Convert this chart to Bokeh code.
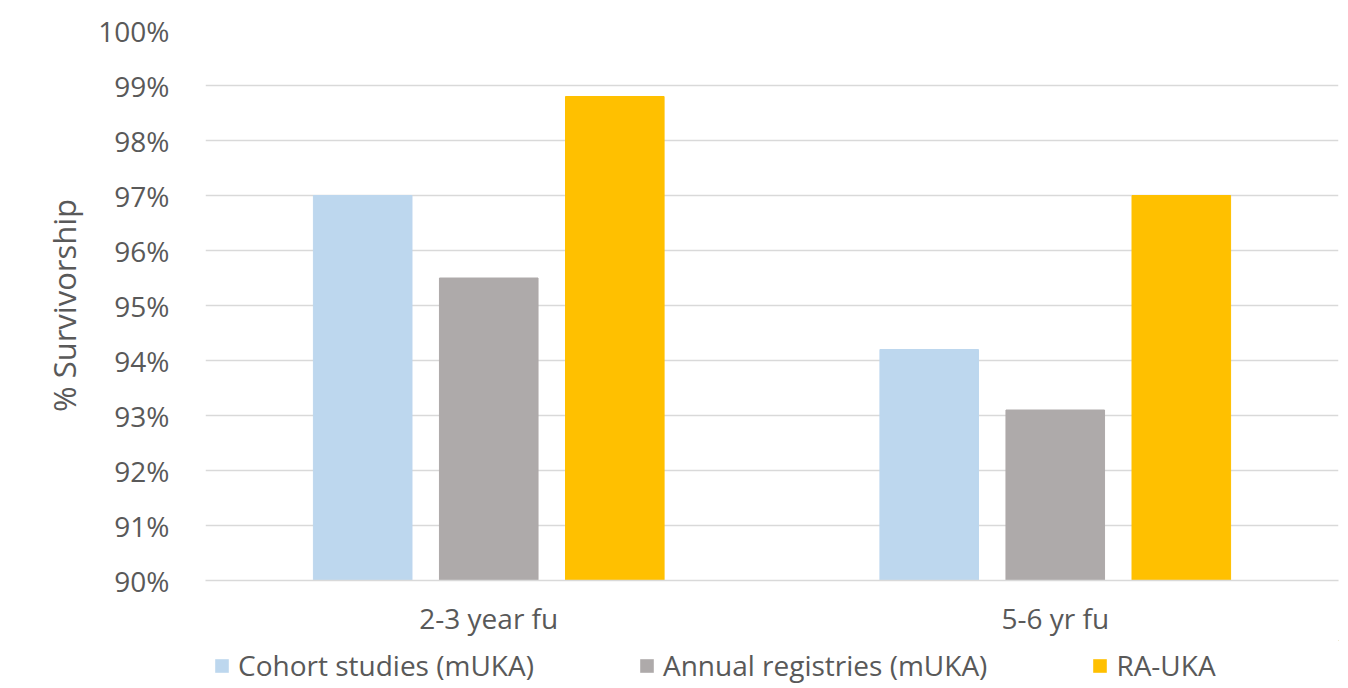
from bokeh.plotting import figure
from bokeh.layouts import column
from bokeh.models import ColumnDataSource, FactorRange, Range1d, Legend, LegendItem, PrintfTickFormatter, FixedTicker
from bokeh.transform import dodge
from bokeh.embed import file_html
from bokeh.resources import INLINE

categories = ["2-3 year fu", "5-6 yr fu"]
series_names = ["Cohort studies (mUKA)", "Annual registries (mUKA)", "RA-UKA"]
cohort = [97.0, 94.2]
annual = [95.5, 93.1]
ra_uka = [98.8, 97.0]
colors = ["#BDD7EE", "#AEAAAA", "#FFC000"]
y_ticks = list(range(90, 101))

src = ColumnDataSource(dict(cat=categories, cohort=cohort, annual=annual, ra=ra_uka))

FONT = "Open Sans"
TXT = "#595959"

p = figure(x_range=FactorRange(*categories), y_range=Range1d(90, 100),
           width=1348, height=640, output_backend="svg", toolbar_location=None,
           min_border_left=205, min_border_right=10, min_border_top=30, min_border_bottom=60)
p.outline_line_color = None

r1 = p.vbar(x=dodge("cat", -0.2225, range=p.x_range), top="cohort", bottom=90, width=0.174,
            source=src, color=colors[0])
r2 = p.vbar(x=dodge("cat", 0.0, range=p.x_range), top="annual", bottom=90, width=0.174,
            source=src, color=colors[1])
r3 = p.vbar(x=dodge("cat", 0.2225, range=p.x_range), top="ra", bottom=90, width=0.174,
            source=src, color=colors[2])

p.yaxis.ticker = FixedTicker(ticks=y_ticks)
p.yaxis.formatter = PrintfTickFormatter(format="%d%%")
p.yaxis.axis_line_color = None
p.yaxis.major_tick_line_color = None
p.yaxis.minor_tick_line_color = None
p.yaxis.major_label_standoff = 30
p.yaxis.major_label_text_font = FONT
p.yaxis.major_label_text_font_size = "28px"
p.yaxis.major_label_text_color = TXT
p.yaxis.axis_label = "% Survivorship"
p.yaxis.axis_label_text_font = FONT
p.yaxis.axis_label_text_font_size = "31px"
p.yaxis.axis_label_text_font_style = "normal"
p.yaxis.axis_label_text_color = TXT
p.yaxis.axis_label_standoff = 10

p.xaxis.axis_line_color = "#D9D9D9"
p.xaxis.axis_line_width = 1.5
p.xaxis.major_tick_line_color = None
p.xaxis.minor_tick_line_color = None
p.xaxis.major_label_standoff = 12
p.xaxis.major_label_text_font = FONT
p.xaxis.major_label_text_font_size = "28px"
p.xaxis.major_label_text_color = TXT

p.xgrid.grid_line_color = None
p.ygrid.grid_line_color = "#D9D9D9"
p.ygrid.grid_line_width = 1.5

# Legend strip below the chart (its bars fall outside its ranges, only the legend shows)
lg = figure(width=1348, height=48, output_backend="svg", toolbar_location=None,
            x_range=FactorRange(*categories), y_range=Range1d(0, 1),
            min_border_left=205, min_border_right=10, min_border_top=0, min_border_bottom=0)
lg.axis.visible = False
lg.grid.visible = False
lg.outline_line_color = None
off = dodge("cat", 20.0, range=lg.x_range)
d1 = lg.vbar(x=off, top="cohort", bottom=90, width=0.1, source=src,
             fill_color=colors[0], line_color=None)
d2 = lg.vbar(x=off, top="annual", bottom=90, width=0.1, source=src,
             fill_color=colors[1], line_color=None)
d3 = lg.vbar(x=off, top="ra", bottom=90, width=0.1, source=src,
             fill_color=colors[2], line_color=None)

legend = Legend(items=[LegendItem(label=series_names[0], renderers=[d1]),
                       LegendItem(label=series_names[1], renderers=[d2]),
                       LegendItem(label=series_names[2], renderers=[d3])],
                orientation="horizontal", location=(8, 4),
                label_text_font=FONT, label_text_font_size="28px", label_text_color=TXT,
                glyph_width=17, glyph_height=17, label_standoff=8, spacing=104,
                border_line_color=None, background_fill_alpha=0, padding=0, margin=0)
lg.add_layout(legend, "center")

layout = column(p, lg, spacing=0)
open("out.html", "w").write(file_html(layout, INLINE))
